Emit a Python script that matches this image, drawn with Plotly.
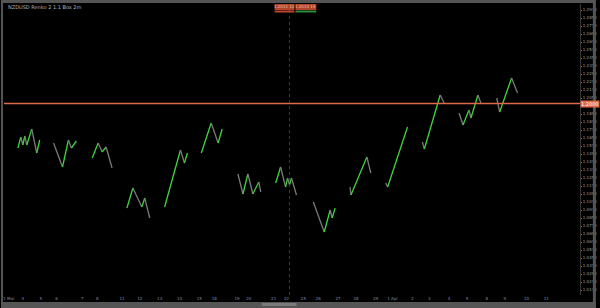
import plotly.graph_objects as go

W, H = 600, 308
ML, MR, MT, MB = 3, 16, 4, 13

# Renko swing groups: bar index and price of each turning point
g_bars = [
    [17, 20, 22, 24, 26, 31, 36, 39],
    [53, 62, 68, 71, 76],
    [92, 98, 102, 106, 112],
    [127, 133, 142, 145, 150],
    [165, 181, 185, 188],
    [202, 212, 219, 223],
    [239, 244, 249, 254, 260, 262],
    [277, 282, 287, 289, 291, 293, 298],
    [315, 326, 332, 334, 337],
    [352, 353, 369, 373],
    [388, 390, 410],
    [425, 427, 443, 447],
    [462, 466, 472, 474, 481, 484],
    [500, 503, 515, 521],
]
g_prices = [
    [1.1555, 1.1665, 1.1585, 1.1675, 1.1585, 1.1745, 1.1505, 1.1635],
    [1.1605, 1.1365, 1.1635, 1.1555, 1.1625],
    [1.1455, 1.1605, 1.1515, 1.1565, 1.1355],
    [1.0955, 1.1155, 1.0965, 1.1055, 1.0855],
    [1.0965, 1.1535, 1.1405, 1.1505],
    [1.1505, 1.1805, 1.1605, 1.1745],
    [1.1295, 1.1095, 1.1295, 1.1095, 1.1215, 1.1115],
    [1.1205, 1.1365, 1.1165, 1.1255, 1.1185, 1.1255, 1.1085],
    [1.1015, 1.0715, 1.0935, 1.0855, 1.0955],
    [1.1165, 1.1085, 1.1465, 1.1305],
    [1.1205, 1.1165, 1.1765],
    [1.1615, 1.1545, 1.2085, 1.2005],
    [1.1905, 1.1785, 1.1935, 1.1855, 1.2085, 1.2005],
    [1.2055, 1.1915, 1.2255, 1.2105],
]
level_price = 1.2000
marker_bar = 291

x_tick_bars = [8, 22, 40, 56, 82, 97, 122, 140, 160, 180, 200, 215, 238, 250, 275, 288,
               305, 320, 340, 358, 378, 395, 415, 432, 452, 470, 490, 508, 530, 550]
x_tick_text = ["1 Mar", "4", "5", "6", "7", "8", "11", "12", "13", "14", "15", "18", "19", "20",
               "21", "22", "25", "26", "27", "28", "29", "1 Apr", "2", "3", "4", "5", "8", "9", "10", "11"]
y_tick_vals = [round(1.0135 + 0.008 * i, 4) for i in range(37)]
y_tick_vals = [v for v in y_tick_vals if abs(v - level_price) > 0.005]
y_tick_text = ["%.4f" % v for v in y_tick_vals]

UP = "#3fd43f"
DOWN = "#7a7a7a"

fig = go.Figure()
for bars, prices in zip(g_bars, g_prices):
    for i in range(len(bars) - 1):
        col = UP if prices[i + 1] > prices[i] else DOWN
        fig.add_trace(go.Scatter(x=[bars[i], bars[i + 1]], y=[prices[i], prices[i + 1]],
                                 mode="lines", line=dict(color=col, width=1.3),
                                 hoverinfo="skip", showlegend=False))

pw = W - ML - MR
ph = H - MT - MB
def px(x):
    return (x - ML) / pw
def py(y):
    return (H - MB - y) / ph

shapes = [
    dict(type="line", xref="paper", yref="y", x0=0, x1=1, y0=level_price, y1=level_price,
         line=dict(color="#e06a48", width=1.5)),
    dict(type="line", xref="x", yref="paper", x0=marker_bar, x1=marker_bar, y0=0, y1=1,
         line=dict(color="#3a3a3a", width=1, dash="dot")),
    # frame
    dict(type="rect", xref="paper", yref="paper", x0=px(0), x1=px(600), y0=py(0), y1=py(3),
         fillcolor="#555555", line=dict(width=0)),
    dict(type="rect", xref="paper", yref="paper", x0=px(0), x1=px(600), y0=py(302), y1=py(308),
         fillcolor="#555555", line=dict(width=0)),
    dict(type="rect", xref="paper", yref="paper", x0=px(263), x1=px(298), y0=py(303), y1=py(306),
         fillcolor="#7a7a7a", line=dict(width=0)),
    dict(type="rect", xref="paper", yref="paper", x0=px(0), x1=px(2), y0=py(0), y1=py(308),
         fillcolor="#555555", line=dict(width=0)),
    dict(type="rect", xref="paper", yref="paper", x0=px(597), x1=px(600), y0=py(0), y1=py(308),
         fillcolor="#555555", line=dict(width=0)),
    # top badges
    dict(type="rect", xref="paper", yref="paper", x0=px(276), x1=px(296), y0=py(4), y1=py(10),
         fillcolor="#b2442a", line=dict(width=0)),
    dict(type="rect", xref="paper", yref="paper", x0=px(297), x1=px(318), y0=py(4), y1=py(10),
         fillcolor="#b2442a", line=dict(width=0)),
    dict(type="line", xref="paper", yref="paper", x0=px(276), x1=px(296), y0=py(11.5), y1=py(11.5),
         line=dict(color="#c0452a", width=2)),
    dict(type="line", xref="paper", yref="paper", x0=px(297), x1=px(318), y0=py(11.5), y1=py(11.5),
         line=dict(color="#2e8b3a", width=2)),
]

annotations = [
    dict(xref="paper", yref="paper", x=px(5), y=py(7), text="NZDUSD Renko 2 1.1 Box 2m",
         showarrow=False, xanchor="left", yanchor="middle",
         font=dict(size=5, color="#b0b0b0", family="DejaVu Sans")),
    dict(xref="paper", yref="paper", x=px(286), y=py(7), text="1.2011 12",
         showarrow=False, xanchor="center", yanchor="middle",
         font=dict(size=4, color="#f0c0b0", family="DejaVu Sans")),
    dict(xref="paper", yref="paper", x=px(307.5), y=py(7), text="1.2014 14",
         showarrow=False, xanchor="center", yanchor="middle",
         font=dict(size=4, color="#f0c0b0", family="DejaVu Sans")),
    dict(xref="paper", yref="y", x=1.0, y=level_price, text="1.2000",
         showarrow=False, xanchor="left", yanchor="middle", bgcolor="#e06a48",
         borderpad=0, font=dict(size=5, color="#ffffff", family="DejaVu Sans")),
]

fig.update_layout(
    width=W, height=H,
    margin=dict(l=ML, r=MR, t=MT, b=MB),
    paper_bgcolor="#000000", plot_bgcolor="#000000",
    shapes=shapes, annotations=annotations,
    showlegend=False,
    xaxis=dict(range=[ML, W - MR], showgrid=False, zeroline=False,
               tickmode="array", tickvals=x_tick_bars, ticktext=x_tick_text,
               tickfont=dict(size=4, color="#8090a8", family="DejaVu Sans"),
               ticks="", showline=False),
    yaxis=dict(range=[1.3035 - (H - MB) / 1000, 1.3035 - MT / 1000], side="right",
               showgrid=False, zeroline=False,
               tickmode="array", tickvals=y_tick_vals, ticktext=y_tick_text,
               tickfont=dict(size=4, color="#a0a0a0", family="DejaVu Sans"),
               ticks="outside", ticklen=1, tickcolor="#777777",
               showline=True, linecolor="#3a3a3a", linewidth=1),
)

fig.write_html("out.html")
